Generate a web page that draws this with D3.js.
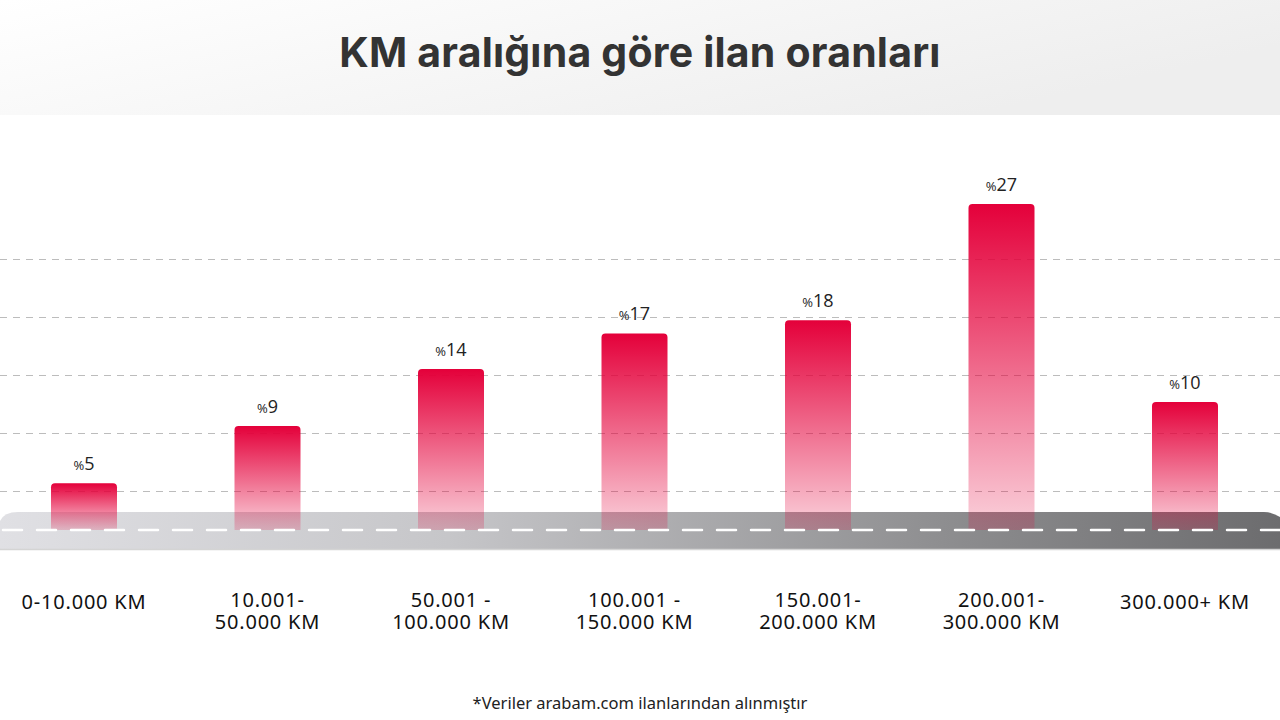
<!DOCTYPE html>
<html>
<head>
<meta charset="utf-8">
<script src="https://cdn.jsdelivr.net/npm/d3@7"></script>
<style>
  body { margin: 0; background: #fff; }
  svg { display: block; }
</style>
</head>
<body>
<svg id="stage" width="1280" height="720"></svg>
<script>
var svg = d3.select("#stage");

// data
var categories = ["0-10.000 KM", "10.001-50.000 KM", "50.001-100.000 KM", "100.001-150.000 KM",
                  "150.001-200.000 KM", "200.001-300.000 KM", "300.000+ KM"];
var labelLines = [["0-10.000 KM"], ["10.001-", "50.000 KM"], ["50.001 -", "100.000 KM"],
                  ["100.001 -", "150.000 KM"], ["150.001-", "200.000 KM"], ["200.001-", "300.000 KM"],
                  ["300.000+ KM"]];
// printed percentages
var shares = [5, 9, 14, 17, 18, 27, 10];
// bar lengths as drawn (the artwork is not exactly to scale)
var barLevels = [5, 9.5, 14, 16.8, 17.85, 27, 11.4];
var gridLevels = [1, 2, 3, 4, 5];

var title = "KM aralığına göre ilan oranları";
var note = "*Veriler arabam.com ilanlarından alınmıştır";

var W = 1280, H = 720;
var roadTop = 512, roadBottom = 550, laneY = 530;
var barW = 66;

////////////////////////////// SCALES

var x = d3.scalePoint().domain(categories).range([84, 1185]);
var y = d3.scaleLinear().domain([0, 27]).range([546.7, 204]);
var gridY = d3.scaleLinear().domain([1, 5]).range([491, 259]);

var defs = svg.append("defs");

var headGrad = defs.append("linearGradient").attr("id", "head")
    .attr("x1", "0").attr("y1", "0").attr("x2", "1").attr("y2", "0.4");
headGrad.append("stop").attr("offset", "0%").attr("stop-color", "#ffffff");
headGrad.append("stop").attr("offset", "100%").attr("stop-color", "#eeeeee");

var roadGrad = defs.append("linearGradient").attr("id", "road")
    .attr("x1", "0").attr("y1", "0").attr("x2", "1").attr("y2", "0");
roadGrad.append("stop").attr("offset", "0%").attr("stop-color", "#e0e0e4");
roadGrad.append("stop").attr("offset", "35%").attr("stop-color", "#c6c6c9");
roadGrad.append("stop").attr("offset", "75%").attr("stop-color", "#8c8c8e");
roadGrad.append("stop").attr("offset", "100%").attr("stop-color", "#6c6c6e");

var barGrad = defs.append("linearGradient").attr("id", "bar")
    .attr("x1", "0").attr("y1", "0").attr("x2", "0").attr("y2", "1");
barGrad.append("stop").attr("offset", "0%").attr("stop-color", "#e4003a").attr("stop-opacity", 1);
barGrad.append("stop").attr("offset", "100%").attr("stop-color", "#e4003a").attr("stop-opacity", 0.18);

////////////////////////////// HEADER

svg.append("rect").attr("x", 0).attr("y", 0).attr("width", W).attr("height", 115)
    .attr("fill", "url(#head)");

svg.append("text")
    .attr("x", W / 2).attr("y", 67)
    .attr("text-anchor", "middle")
    .attr("style", "font-family: Inter, sans-serif; font-weight: 700; font-size: 41px; letter-spacing: 0.2px; fill: #333")
    .text(title);

////////////////////////////// GRID

svg.append("g").selectAll("line")
    .data(gridLevels)
  .enter().append("line")
    .attr("x1", 0).attr("x2", W)
    .attr("y1", function(d){ return gridY(d) + 0.5; })
    .attr("y2", function(d){ return gridY(d) + 0.5; })
    .attr("stroke", "#bcbcbc")
    .attr("stroke-width", 1)
    .attr("stroke-dasharray", "7,6");

////////////////////////////// ROAD

var roadPath = "M0," + (roadTop + 9) +
    " Q4," + roadTop + " 18," + roadTop +
    " L1264," + roadTop +
    " Q1272," + roadTop + " 1280," + (roadTop + 5) +
    " L1280," + roadBottom + " L0," + roadBottom + " Z";

svg.append("path").attr("d", roadPath).attr("fill", "url(#road)");
svg.append("line").attr("x1", 0).attr("x2", W)
    .attr("y1", roadBottom - 0.5).attr("y2", roadBottom - 0.5)
    .attr("stroke", "#d4d4d4").attr("stroke-width", 1.5);

////////////////////////////// BARS

var bars = svg.append("g").selectAll("g")
    .data(barLevels)
  .enter().append("g")
    .attr("class", "bar");

bars.append("path")
    .attr("fill", "url(#bar)")
    .attr("d", function(d, i){
      var x0 = x(categories[i]) - barW / 2, x1 = x0 + barW, top = y(d), r = 4;
      return "M" + x0 + "," + laneY + " L" + x0 + "," + (top + r) +
        " Q" + x0 + "," + top + " " + (x0 + r) + "," + top +
        " L" + (x1 - r) + "," + top +
        " Q" + x1 + "," + top + " " + x1 + "," + (top + r) +
        " L" + x1 + "," + laneY + " Z";
    });

var valueText = bars.append("text")
    .attr("x", function(d, i){ return x(categories[i]); })
    .attr("y", function(d){ return y(d) - 13; })
    .attr("text-anchor", "middle")
    .attr("style", "font-family: 'Open Sans', sans-serif; fill: #222");
valueText.append("tspan").attr("font-size", "13px").text("%");
valueText.append("tspan").attr("font-size", "18px").attr("font-weight", 500)
    .text(function(d, i){ return shares[i]; });

// lane markings
svg.append("line")
    .attr("x1", 3).attr("x2", W)
    .attr("y1", laneY).attr("y2", laneY)
    .attr("stroke", "#ffffff")
    .attr("stroke-width", 2.5)
    .attr("stroke-linecap", "round")
    .attr("stroke-dasharray", "19,15");

////////////////////////////// LABELS

bars.each(function(d, i){
  var lines = labelLines[i];
  var t = d3.select(this).append("text")
      .attr("text-anchor", "middle")
      .attr("style", "font-family: 'Noto Sans', sans-serif; font-weight: 400; font-size: 20px; letter-spacing: 0.8px; fill: #111");
  lines.forEach(function(line, k){
    t.append("tspan")
      .attr("x", x(categories[i]))
      .attr("y", (lines.length === 1 ? 609 : 607) + k * 22)
      .text(line);
  });
});

svg.append("text")
    .attr("x", W / 2).attr("y", 709)
    .attr("text-anchor", "middle")
    .attr("style", "font-family: 'Noto Sans', sans-serif; font-size: 16.5px; fill: #222")
    .text(note);
</script>
</body>
</html>
